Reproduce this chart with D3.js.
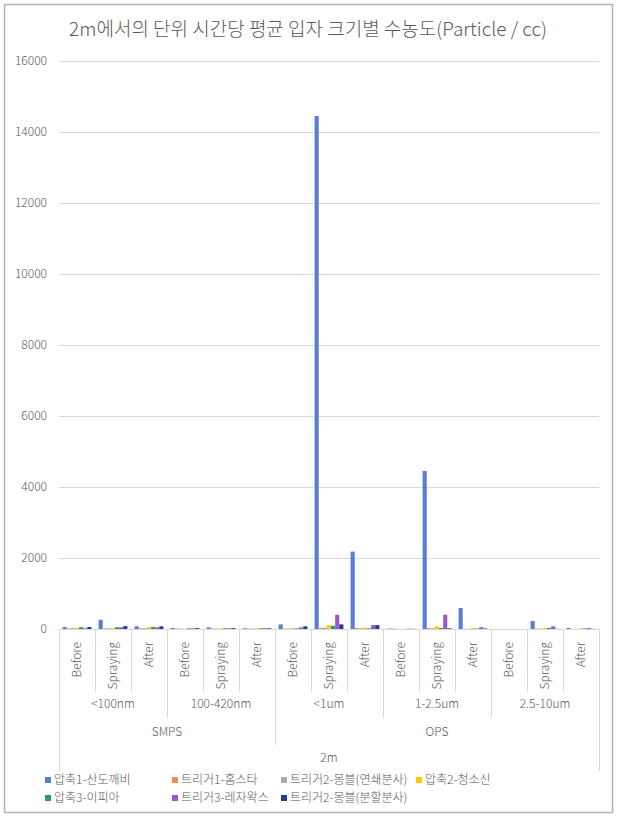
<!DOCTYPE html>
<html>
<head>
<meta charset="utf-8">
<script src="https://cdn.jsdelivr.net/npm/d3@7"></script>
<style>
  html, body { margin: 0; padding: 0; background: #ffffff; }
  svg { display: block; }
  text { font-family: "Noto Sans CJK KR", "Noto Sans", sans-serif; fill: #595959; }
</style>
</head>
<body>
<svg id="chart" width="617" height="818"></svg>
<script>
// ---------- data ----------
const title = "2m에서의 단위 시간당 평균 입자 크기별 수농도(Particle / cc)";
const phases = ["Before", "Spraying", "After"];
const sizeClasses = ["<100nm", "100-420nm", "<1um", "1-2.5um", "2.5-10um"];
const instruments = ["SMPS", "OPS"];
const instrumentSpans = [2, 3];
const locationLabel = "2m";
const yTicks = [0, 2000, 4000, 6000, 8000, 10000, 12000, 14000, 16000];

const seriesNames = [
  "압축1-산도깨비", "트리거1-홈스타", "트리거2-몽블(연쇄분사)", "압축2-청소신",
  "압축3-이피아", "트리거3-레자왁스", "트리거2-몽블(분할분사)"
];
const seriesColors = ["#5a7bd8", "#f28c4f", "#a9a9a9", "#ffc800", "#2a9d62", "#9b59c6", "#223a8f"];

// 15 categories: (size class x phase)
const s1 = [55, 260, 75, 30, 45, 20, 130, 14450, 2180, 10, 4450, 590, 0, 225, 30];
const s2 = [15, 15, 20, 15, 15, 15, 10, 30, 30, 15, 30, 5, 0, 10, 2];
const s3 = [25, 20, 25, 10, 10, 10, 15, 40, 20, 5, 20, 5, 0, 10, 2];
const s4 = [30, 25, 50, 5, 15, 20, 20, 110, 40, 2, 75, 30, 0, 30, 15];
const s5 = [50, 50, 55, 20, 20, 20, 20, 90, 20, 2, 30, 15, 0, 30, 15];
const s6 = [20, 50, 45, 20, 20, 25, 45, 400, 110, 10, 400, 50, 0, 75, 30];
const s7 = [55, 80, 75, 25, 25, 20, 75, 130, 110, 5, 20, 15, 0, 5, 5];
const seriesValues = [s1, s2, s3, s4, s5, s6, s7];

// ---------- layout ----------
const svg = d3.select("#chart");
const plot = { left: 59, right: 599, top: 61, bottom: 629 };
const fs = "12px";

const categories = [];
sizeClasses.forEach((sc, i) => phases.forEach((ph, j) => categories.push(i * 3 + j)));

const x0 = d3.scaleBand().domain(categories).range([plot.left, plot.right]).padding(0);
const bw = x0.bandwidth();
const x1 = d3.scaleBand().domain(d3.range(seriesNames.length))
  .range([bw * 0.1, bw * 0.9]).padding(0);
const y = d3.scaleLinear().domain([0, 16000]).range([plot.bottom, plot.top]);

// frame
svg.append("rect").attr("x", 4.5).attr("y", 4.5).attr("width", 608).attr("height", 808)
  .attr("fill", "#fff").attr("stroke", "#b4b4b4").attr("stroke-width", 1.5);

// title
svg.append("text").attr("x", 308).attr("y", 36).attr("text-anchor", "middle")
  .style("font-size", "19px").style("font-weight", 300).text(title);

// gridlines + y axis labels
const yAxis = d3.axisLeft(y).tickValues(yTicks).tickSize(0).tickFormat(d3.format("d"));
const yg = svg.append("g").attr("transform", `translate(${plot.left - 9},0)`).call(yAxis);
yg.select(".domain").remove();
yg.selectAll("text").style("font-size", fs).style("font-family", "\"Noto Sans CJK KR\", sans-serif")
  .style("font-weight", 300).attr("fill", "#595959");

svg.append("g").selectAll("line").data(yTicks).join("line")
  .attr("x1", plot.left).attr("x2", plot.right)
  .attr("y1", d => Math.round(y(d)) + 0.5).attr("y2", d => Math.round(y(d)) + 0.5)
  .attr("stroke", "#d9d9d9").attr("stroke-width", 1);

// bars
const barG = svg.append("g");
seriesValues.forEach((vals, si) => {
  barG.append("g").attr("fill", seriesColors[si]).selectAll("rect")
    .data(vals.map((v, ci) => ({ v, ci })))
    .join("rect")
    .attr("x", d => x0(d.ci) + x1(si))
    .attr("width", x1.bandwidth())
    .attr("y", d => y(d.v))
    .attr("height", d => y(0) - y(d.v));
});

// multi-level category axis
const axG = svg.append("g").style("font-weight", 300);
const lineColor = "#d9d9d9";
function vline(x, y2) {
  axG.append("line").attr("x1", Math.round(x) + 0.5).attr("x2", Math.round(x) + 0.5)
    .attr("y1", plot.bottom).attr("y2", y2).attr("stroke", lineColor);
}
const lastEdge = x0(categories[categories.length - 1]) + bw;
categories.forEach(ci => {
  const xl = x0(ci);
  if (ci === 0) return;
  if (ci === instrumentSpans[0] * 3) vline(xl, 745);
  else if (ci % 3 === 0) vline(xl, 718);
  else vline(xl, 692);
});
vline(plot.left, 771);
vline(lastEdge, 771);

// phase labels (rotated)
axG.selectAll("text.phase").data(categories).join("text").attr("class", "phase")
  .attr("transform", d => `translate(${x0(d) + bw / 2},642) rotate(-90)`)
  .attr("text-anchor", "end").attr("dy", "0.35em")
  .style("font-size", fs).text(d => phases[d % 3]);

// size-class labels
axG.selectAll("text.size").data(sizeClasses).join("text").attr("class", "size")
  .attr("x", (d, i) => x0(i * 3) + bw * 1.5).attr("y", 708)
  .attr("text-anchor", "middle").style("font-size", fs).text(d => d);

// instrument labels
let start = 0;
instruments.forEach((ins, i) => {
  const n = instrumentSpans[i] * 3;
  const cx = (x0(start) + x0(start + n - 1) + bw) / 2;
  axG.append("text").attr("x", cx).attr("y", 736).attr("text-anchor", "middle")
    .style("font-size", fs).text(ins);
  start += n;
});

// location label
axG.append("text").attr("x", (plot.left + lastEdge) / 2).attr("y", 762)
  .attr("text-anchor", "middle").style("font-size", fs).text(locationLabel);

// horizontal axis line at 0
axG.append("line").attr("x1", plot.left).attr("x2", plot.right)
  .attr("y1", plot.bottom + 0.5).attr("y2", plot.bottom + 0.5).attr("stroke", lineColor);

// legend
const legX = [45, 172, 281, 416];
const legY = [780, 798];
const leg = svg.append("g").style("font-weight", 300);
seriesNames.forEach((name, i) => {
  const col = i % 4, row = Math.floor(i / 4);
  const g = leg.append("g").attr("transform", `translate(${legX[col]},${legY[row]})`);
  g.append("rect").attr("x", 0).attr("y", -3).attr("width", 6).attr("height", 6).attr("fill", seriesColors[i]);
  g.append("text").attr("x", 9).attr("y", 0).attr("dy", "0.35em").style("font-size", fs).text(name);
});
</script>
</body>
</html>
